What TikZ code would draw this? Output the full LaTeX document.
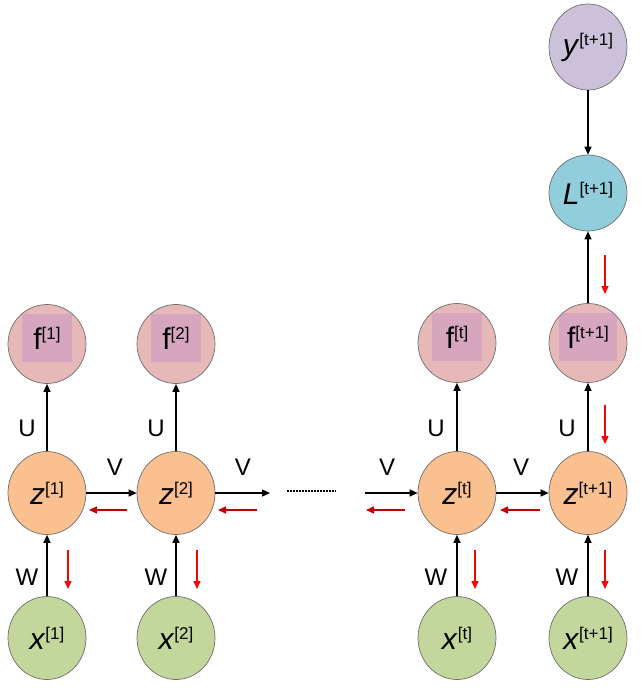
\documentclass[tikz,border=0pt]{standalone}
\usepackage{fontspec}
\setmainfont{Liberation Sans}
\usetikzlibrary{arrows.meta,shapes.geometric}
\definecolor{fcol}{HTML}{E6B9B8}
\definecolor{frect}{HTML}{D5A6BD}
\definecolor{zcol}{HTML}{FAC090}
\definecolor{xcol}{HTML}{C3D69B}
\definecolor{lcol}{HTML}{92CDDC}
\definecolor{ycol}{HTML}{CCC1DA}
\definecolor{bord}{HTML}{6E6E6E}
\definecolor{dred}{HTML}{C00000}
\definecolor{bred}{HTML}{FF0000}
\newcommand\sps[1]{\raisebox{10pt}{\fontsize{17}{17}\selectfont #1}}
\newcommand\bigtx[1]{{\fontsize{30}{30}\selectfont #1}}
\begin{document}
\begin{tikzpicture}[x=1pt,y=-1pt,
  nd/.style={ellipse, minimum width=78pt, minimum height=83pt, draw=bord, line width=0.7pt, inner sep=0pt},
  fnode/.style={nd, fill=fcol, minimum height=79pt},
  frectw/.style={path picture={\fill[frect] ([xshift=-#1pt,yshift=-18pt]path picture bounding box.center) rectangle ([xshift=#1pt,yshift=30pt]path picture bounding box.center);}},
  znode/.style={nd, fill=zcol},
  xnode/.style={nd, fill=xcol},
  lnode/.style={nd, fill=lcol, minimum height=76pt},
  ynode/.style={nd, fill=ycol, minimum height=86pt},
  conn/.style={-{Triangle[length=8pt,width=7pt]}, line width=1.3pt, black},
  rarr/.style={-{Triangle[length=8pt,width=7pt]}, line width=1.5pt},
  lab/.style={font=\fontsize{24}{24}\selectfont, inner sep=0pt}
]
\useasboundingbox (0,0) rectangle (640,690);
% nodes
\node[fnode, frectw=25] (f1) at (47,344) {};
\node[fnode, frectw=25] (f2) at (176,344) {};
\node[fnode, frectw=25] (ft) at (457,343) {};
\node[fnode, frectw=29] (ft1) at (588,343) {};
\node[inner sep=0pt] (f1t) at (47,338) {\bigtx{f}\sps{[1]}};
\node[inner sep=0pt] (f2t) at (176,338) {\bigtx{f}\sps{[2]}};
\node[inner sep=0pt] (ftt) at (457,337) {\bigtx{f}\sps{[t]}};
\node[inner sep=0pt] (ft1t) at (588,337) {\bigtx{f}\sps{[t+1]}};

\node[znode] (z1) at (47,493) {\bigtx{\textit{z}}\sps{[1]}};
\node[znode] (z2) at (176,493) {\bigtx{\textit{z}}\sps{[2]}};
\node[znode] (zt) at (457,493) {\bigtx{\textit{z}}\sps{[t]}};
\node[znode] (zt1) at (588,493) {\bigtx{\textit{z}}\sps{[t+1]}};

\node[xnode] (x1) at (47,638) {\bigtx{\textit{x}}\sps{[1]}};
\node[xnode] (x2) at (176,638) {\bigtx{\textit{x}}\sps{[2]}};
\node[xnode] (xt) at (457,638) {\bigtx{\textit{x}}\sps{[t]}};
\node[xnode] (xt1) at (588,638) {\bigtx{\textit{x}}\sps{[t+1]}};

\node[lnode] (L) at (588,193) {\bigtx{\textit{L}}\sps{[t+1]}};
\node[ynode] (y) at (588,47) {\bigtx{\textit{y}}\sps{[t+1]}};

\coordinate (e2) at (270,493);
\coordinate (s3) at (365,493);

% black connectors
\foreach \a/\b in {x1/z1,x2/z2,xt/zt,xt1/zt1,z1/f1,z2/f2,zt/ft,zt1/ft1}
  \draw[conn] (\a.north) -- (\b.south);
\draw[conn] (y.south) -- (L.north);
\draw[conn] (ft1.north) -- (L.south);
\draw[conn] (z1.east) -- (z2.west);
\draw[conn] (z2.east) -- (e2);
\draw[conn] (s3) -- (zt.west);
\draw[conn] (zt.east) -- (zt1.west);
\draw[line width=1.2pt, dash pattern=on 1.5pt off 1.5pt] (287,491) -- (336,491);

% labels
\foreach \xx in {27,156,436,567}{
  \node[lab] at (\xx,428) {U};
  \node[lab] at (\xx,577) {W};
}
\node[lab] at (115,467) {V};
\node[lab] at (243,467) {V};
\node[lab] at (387,467) {V};
\node[lab] at (521,467) {V};

% red arrows
\draw[rarr, dred] (127,510) -- (89,510);
\draw[rarr, dred] (257,510) -- (218,510);
\draw[rarr, dred] (405,510) -- (366,510);
\draw[rarr, dred] (540,510) -- (500,510);
\foreach \xx in {68,197,475,605}
  \draw[rarr, bred] (\xx,550) -- (\xx,589);
\draw[rarr, bred] (605,405) -- (605,444);
\draw[rarr, bred] (605,255) -- (605,294);
\end{tikzpicture}
\end{document}
